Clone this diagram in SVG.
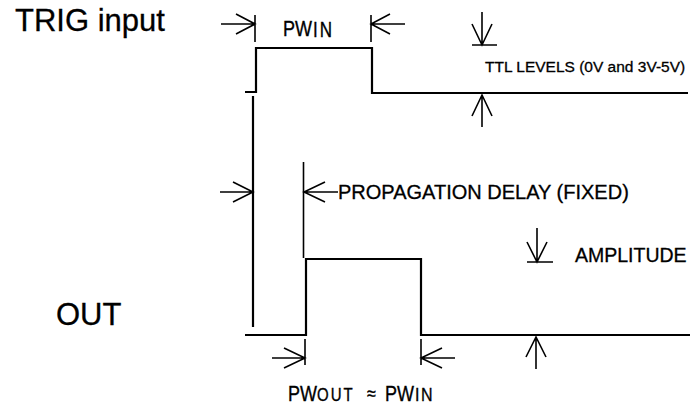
<svg xmlns="http://www.w3.org/2000/svg" width="691" height="408" viewBox="0 0 691 408">
<style>
.w{fill:none;stroke:#000;stroke-width:2.2;stroke-linejoin:miter}
.a{fill:none;stroke:#000;stroke-width:1.6}
.t{font-family:"Liberation Sans",Arial,sans-serif;fill:#000;stroke:#000;stroke-width:0.3}
</style>
<rect width="691" height="408" fill="#fff"/>
<g id="labels">
<text class="t" x="15" y="31" font-size="31">TRIG input</text>
<text class="t" x="56" y="325" font-size="31">OUT</text>
</g>
<g id="waveforms">
<path id="trig" class="w" d="M245,92 H256 V48 H372 V93 H688"/>
<path id="trig-edge" class="w" d="M253,96 V327"/>
<path id="out" class="w" d="M245,335 H306 V259 H421 V335 H690"/>
<path id="delay-edge" class="a" d="M303.5,162 V258"/>
</g>
<g id="pw-in">
<path class="a" d="M221,24 H255 M236,14 L255,24 L236,34 M255,15 V42"/>
<path class="a" d="M405,24 H371 M390,14 L371,24 L390,34 M371,15 V42"/>
<text class="t" transform="translate(283,36) scale(1,1.25)"><tspan x="0" y="0" font-size="18">PW</tspan><tspan x="30" y="0.8" font-size="17" letter-spacing="2">IN</tspan></text>
</g>
<g id="ttl-levels">
<path class="a" d="M482,12 V45 M472,24 L482,45 L492,24 M472,45 H497"/>
<path class="a" d="M482,127 V95 M472,116 L482,95 L492,116"/>
<text class="t" x="485" y="72" font-size="15.5">TTL LEVELS (0V and 3V-5V)</text>
</g>
<g id="prop-delay">
<path class="a" d="M220,192 H253 M233,182 L253,192 L233,202"/>
<path class="a" d="M338,192 H304 M325,182 L304,192 L325,202"/>
<text class="t" x="338" y="199" font-size="20">PROPAGATION DELAY (FIXED)</text>
</g>
<g id="amplitude">
<path class="a" d="M537,228 V262 M527,242 L537,262 L547,242 M527,262 H553"/>
<path class="a" d="M536,369 V337 M526,357 L536,337 L546,357"/>
<text class="t" x="575" y="262" font-size="19.5">AMPLITUDE</text>
</g>
<g id="pw-out">
<path class="a" d="M272,358 H305 M284,348 L305,358 L284,368 M305,339 V365"/>
<path class="a" d="M455,358 H421 M442,348 L421,358 L442,368 M421,339 V365"/>
<text class="t" transform="translate(288,401) scale(1,1.2)"><tspan x="0" y="0" font-size="18">PW</tspan><tspan x="29" y="0" font-size="15" letter-spacing="2">OUT</tspan><tspan x="79" y="-1" font-size="16">≈</tspan><tspan x="97" y="0" font-size="18">PW</tspan><tspan x="127" y="0" font-size="16" letter-spacing="1.5">IN</tspan></text>
</g>
</svg>
